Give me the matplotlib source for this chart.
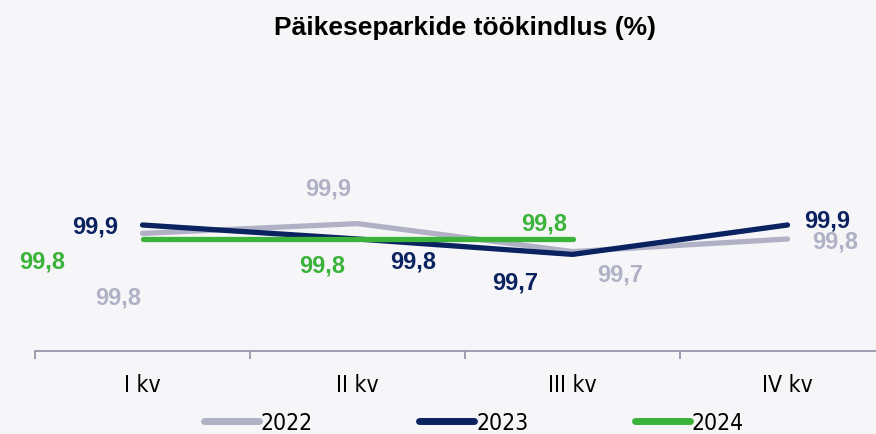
import matplotlib.pyplot as plt
from matplotlib.lines import Line2D

# data
quarters = ["I kv", "II kv", "III kv", "IV kv"]
y2022 = [99.84, 99.91, 99.71, 99.80]
y2023 = [99.90, 99.80, 99.69, 99.90]
y2024 = [99.80, 99.80, 99.80]
years = ["2022", "2023", "2024"]

colors = ["#b1b1c6", "#0b2260", "#3bb33b"]
bg = "#f6f6f9"

# label offsets (pixels) for each point
off2022 = [(-24, -64), (-29, 36), (48, -22), (48, -2)]
off2023 = [(-47, -1), (56, -22), (-57, -28), (40, 5)]
off2024 = [(-100, -22), (-35, -26), (-28, 16)]

plt.rcParams['font.family'] = ['Liberation Sans', 'DejaVu Sans']
narrow = {'family': 'DejaVu Sans', 'stretch': 'condensed', 'size': 16.5}

fig = plt.figure(figsize=(8.76, 4.35), dpi=100, facecolor=bg)
ax = fig.add_axes([35 / 876, 83 / 435, 860 / 876, 196 / 435], facecolor=bg)

series = [y2022, y2023, y2024]
offsets = [off2022, off2023, off2024]
for vals, col, offs, yr in zip(series, colors, offsets, years):
    xs = range(len(vals))
    ax.plot(xs, vals, color=col, lw=3.8, solid_capstyle='round',
            solid_joinstyle='round', label=yr)
    for x, v, o in zip(xs, vals, offs):
        ax.annotate(f"{v:.1f}".replace(".", ","), (x, v), xytext=o,
                    textcoords='offset pixels', ha='center', va='center',
                    fontsize=17, fontweight='bold', color=col)

ax.set_xlim(-0.5, 3.5)
ax.set_ylim(99.0, 100.4)
ax.set_yticks([])
for s in ["top", "right", "left"]:
    ax.spines[s].set_visible(False)
ax.spines["bottom"].set_color("#8e91a4")
ax.spines["bottom"].set_linewidth(1.2)

ax.set_xticks(range(4))
ax.set_xticklabels(quarters, fontdict=narrow)
ax.tick_params(axis='x', which='major', length=0, pad=16)
ax.set_xticks([-0.5, 0.5, 1.5, 2.5], minor=True)
ax.tick_params(axis='x', which='minor', length=6, color="#8e91a4", width=1.2)

fig.text(465 / 876, 1 - 28 / 435, "Päikeseparkide töökindlus (%)",
         ha='center', va='center', fontsize=19, fontweight='bold')

handles = [Line2D([0], [0], color=c, lw=5, solid_capstyle='round') for c in colors]
fig.legend(handles, years, loc='center', bbox_to_anchor=(474 / 876, 1 - 424 / 435),
           ncol=3, frameon=False, handlelength=2.4, handletextpad=0.08,
           columnspacing=4.65, prop=narrow)

plt.savefig("out.png", dpi=100, facecolor=bg)
